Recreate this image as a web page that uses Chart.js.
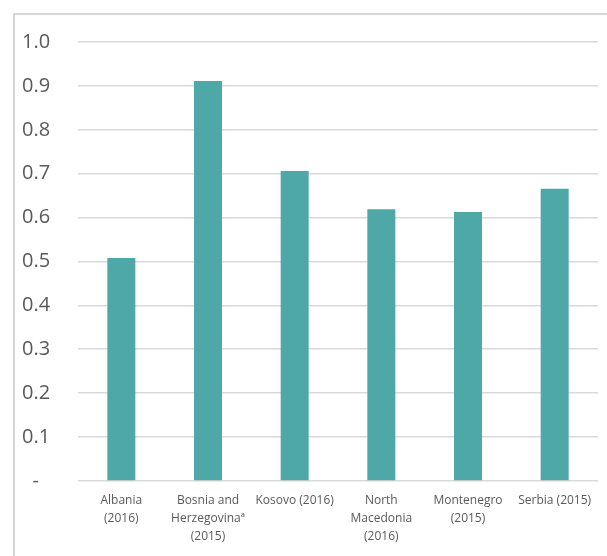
<!DOCTYPE html>
<html>
<head>
<meta charset="utf-8">
<script src="https://cdn.jsdelivr.net/npm/chart.js@4/dist/chart.umd.min.js"></script>
<style>
  body { margin: 0; background: #fff; }
  #wrap { position: relative; width: 607px; height: 556px; overflow: hidden; }
  #frame { position: absolute; left: 13px; top: 13px; width: 700px; height: 700px;
           border-left: 2px solid #d6d6d6; border-top: 2px solid #d6d6d6; }
  canvas { position: absolute; left: 0; top: 0; }
</style>
</head>
<body>
<div id="wrap">
  <div id="frame"></div>
  <canvas id="chart" width="607" height="556"></canvas>
</div>
<script>
const countries = [
    ['Albania', '(2016)'],
    ['Bosnia and', 'Herzegovina\u00aa', '(2015)'],
    'Kosovo (2016)',
    ['North', 'Macedonia', '(2016)'],
    ['Montenegro', '(2015)'],
    'Serbia (2015)'
];
const values = [0.508, 0.911, 0.706, 0.619, 0.613, 0.666];
const yTicks = [0, 0.1, 0.2, 0.3, 0.4, 0.5, 0.6, 0.7, 0.8, 0.9, 1.0];

const ctx = document.getElementById('chart').getContext('2d');
const myChart = new Chart(ctx, {
    type: 'bar',
    data: {
        labels: countries,
        datasets: [{
            data: values,
            backgroundColor: '#4ea8a7',
            borderWidth: 0,
            barPercentage: 0.323,
            categoryPercentage: 1
        }]
    },
    options: {
        responsive: false,
        animation: false,
        layout: { padding: { left: 22, top: 42, right: 9, bottom: 0 } },
        plugins: { legend: { display: false }, tooltip: { enabled: false } },
        scales: {
            x: {
                grid: { display: false },
                border: { display: false },
                ticks: {
                    color: '#595959',
                    font: { family: 'Open Sans', size: 12, lineHeight: 1.5 },
                    maxRotation: 0,
                    autoSkip: false,
                    padding: 3
                },
                afterFit: axis => { axis.height = 75; }
            },
            y: {
                min: 0,
                max: 1,
                afterBuildTicks: axis => { axis.ticks = yTicks.map(v => ({ value: v })); },
                grid: { color: '#d9d9d9', lineWidth: 1.6, drawTicks: false },
                border: { display: false },
                ticks: {
                    color: '#595959',
                    font: { family: 'Open Sans', size: 20 },
                    crossAlign: 'far',
                    callback: v => v === 0 ? '\u00a0\u00a0-' : v.toFixed(1)
                },
                afterFit: axis => { axis.width = 56; }
            }
        }
    }
});
</script>
</body>
</html>
